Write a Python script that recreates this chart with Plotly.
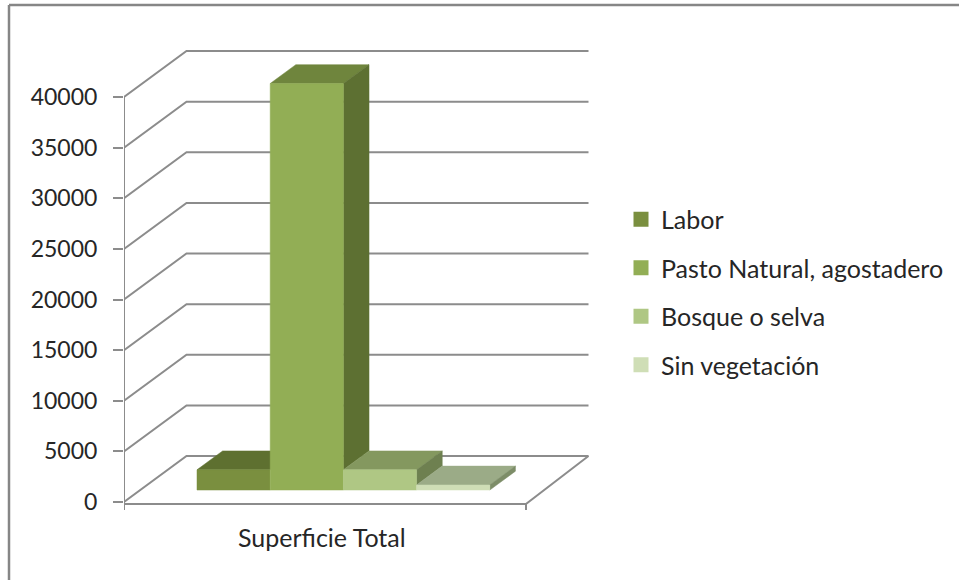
import plotly.graph_objects as go

# --- data ---
categories = ["Superficie Total"]
series_names = ["Labor", "Pasto Natural, agostadero", "Bosque o selva", "Sin vegetación"]
series_values = [2000, 40150, 2000, 500]
y_ticks = [0, 5000, 10000, 15000, 20000, 25000, 30000, 35000, 40000]

# --- styling ---
front = ["#7a8f3f", "#92ae55", "#afc784", "#cfdeb6"]
top = ["#5e7030", "#6f853d", "#84985f", "#9bab87"]
side = ["#5e7030", "#5d7032", "#6e8050", "#7d8d68"]
GRID = "#8c8c8c"
TEXT = "#262626"
FONT = "Lato"
W, H = 959, 580

# Pixel frame of the axes (projection of the Excel 3-D box)
AX_L, AX_R, AX_T, AX_B = 124, 610, 40, 510
Y0_PX = 502.0           # pixel of value 0 on the front wall
PX_PER_UNIT = 405.0 / 40000
WALL_DX_PX, WALL_DY_PX = 62.5, 46.0   # full floor depth
FLOOR_W_PX = 402.0
BAR_W_PX = 73.2
DEPTH_FRONT, DEPTH_BACK = 0.26, 0.67
BAR_X0_PX = 197.0 - AX_L - WALL_DX_PX * DEPTH_FRONT


def y_val(px):
    return (Y0_PX - px) / PX_PER_UNIT


def proj(x_px, value, depth):
    """Oblique projection: depth 0 = front plane, depth 1 = back wall."""
    return x_px + WALL_DX_PX * depth, value + WALL_DY_PX * depth / PX_PER_UNIT


def line(points, color=GRID, width=2):
    return go.Scatter(x=[p[0] for p in points], y=[p[1] for p in points], mode="lines",
                      line=dict(color=color, width=width), showlegend=False, hoverinfo="skip")


def poly(points, color):
    xs = [p[0] for p in points] + [points[0][0]]
    ys = [p[1] for p in points] + [points[0][1]]
    return go.Scatter(x=xs, y=ys, mode="lines", fill="toself", fillcolor=color,
                      line=dict(color=color, width=0.5), showlegend=False, hoverinfo="skip")


fig = go.Figure()

# Walls: gridlines on the left wall and the back wall
for v in y_ticks:
    fig.add_trace(line([proj(0, v, 0), proj(0, v, 1), proj(FLOOR_W_PX, v, 1)]))

# Value axis line, floor outline and right-hand tick
fig.add_trace(line([(0, y_ticks[-1]), (0, y_val(AX_B))]))
floor_v = y_val(504)
fig.add_trace(line([(0, floor_v), (FLOOR_W_PX, floor_v)]))
fig.add_trace(line([(FLOOR_W_PX, y_val(510)), (FLOOR_W_PX, floor_v),
                    proj(FLOOR_W_PX, 0, 1)]))

# Bar top and side faces
for i, val in enumerate(series_values):
    x0 = BAR_X0_PX + i * BAR_W_PX
    x1 = x0 + BAR_W_PX
    fig.add_trace(poly([proj(x0, val, DEPTH_FRONT), proj(x1, val, DEPTH_FRONT),
                        proj(x1, val, DEPTH_BACK), proj(x0, val, DEPTH_BACK)], top[i]))
    next_val = series_values[i + 1] if i + 1 < len(series_values) else 0
    if val > next_val:
        fig.add_trace(poly([proj(x1, next_val, DEPTH_FRONT), proj(x1, val, DEPTH_FRONT),
                            proj(x1, val, DEPTH_BACK), proj(x1, next_val, DEPTH_BACK)], side[i]))

# Bar front faces (on overlaid axes so they sit above the top and side faces)
for i, val in enumerate(series_values):
    cx, base = proj(BAR_X0_PX + (i + 0.5) * BAR_W_PX, 0, DEPTH_FRONT)
    fig.add_trace(go.Bar(x=[cx], y=[val], base=[base], width=[BAR_W_PX], name=series_names[i],
                         marker=dict(color=front[i], line=dict(color=front[i], width=0.5)),
                         xaxis="x2", yaxis="y2", legendgroup=series_names[i],
                         showlegend=False, hoverinfo="name+y"))
    # legend key, matching the square size of the original
    fig.add_trace(go.Scatter(x=[None], y=[None], mode="markers", name=series_names[i],
                             marker=dict(symbol="square", size=15, color=front[i]),
                             legendgroup=series_names[i]))

x_range = [0, AX_R - AX_L]
y_range = [y_val(AX_B), y_val(AX_T)]
dom_x = [AX_L / W, AX_R / W]
dom_y = [1 - AX_B / H, 1 - AX_T / H]

fig.update_layout(
    width=W, height=H, autosize=False,
    margin=dict(l=0, r=0, t=0, b=0, pad=0, autoexpand=False),
    paper_bgcolor="white", plot_bgcolor="rgba(0,0,0,0)",
    font=dict(family=FONT, color=TEXT, size=23),
    barmode="overlay",
    xaxis=dict(domain=dom_x, range=x_range, visible=False, fixedrange=True),
    yaxis=dict(domain=dom_y, range=y_range, tickmode="array", tickvals=y_ticks,
               tickformat="d", tickfont=dict(family=FONT, size=23, color=TEXT),
               showgrid=False, zeroline=False, showline=False, ticks="outside", ticklen=10,
               tickwidth=2, tickcolor=GRID, ticklabelstandoff=11, fixedrange=True),
    xaxis2=dict(domain=dom_x, range=x_range, overlaying="x", visible=False, fixedrange=True),
    yaxis2=dict(domain=dom_y, range=y_range, overlaying="y", visible=False, fixedrange=True),
    legend=dict(x=621 / W, y=1 - 196.5 / H, xanchor="left", yanchor="top", tracegroupgap=13,
                font=dict(family=FONT, size=25, color=TEXT), bgcolor="rgba(0,0,0,0)",
                itemclick=False, itemdoubleclick=False),
    annotations=[dict(text=categories[0], xref="paper", yref="paper", showarrow=False,
                      x=321.5 / W, y=1 - 536.5 / H, xanchor="center", yanchor="middle",
                      font=dict(family=FONT, size=25, color=TEXT))],
    shapes=[
        dict(type="line", xref="paper", yref="paper", line=dict(color="#868686", width=2.5),
             x0=9 / W, x1=1, y0=1 - 5 / H, y1=1 - 5 / H),
        dict(type="line", xref="paper", yref="paper", line=dict(color="#868686", width=2.5),
             x0=9 / W, x1=9 / W, y0=1 - 5 / H, y1=0),
    ],
)

fig.write_html("out.html", config={"displayModeBar": False},
               post_script="document.body.style.margin='0';")
